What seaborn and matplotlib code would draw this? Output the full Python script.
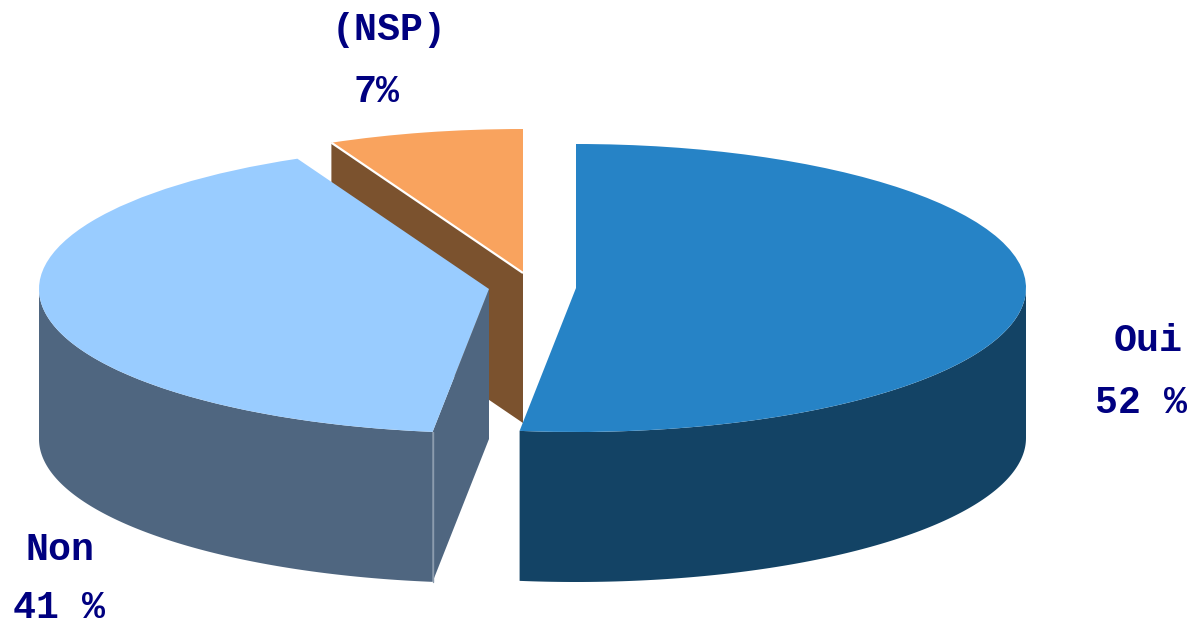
import numpy as np
import seaborn as sns
import matplotlib
matplotlib.use("Agg")
import matplotlib.pyplot as plt

categories = ["Oui", "Non", "(NSP)"]
values = [52, 41, 7]
value_labels = ["52 %", "41 %", "7%"]
top_colors = ["#2683C6", "#99CCFF", "#F9A35E"]
wall_colors = ["#134365", "#4F6680", "#7B522E"]

sns.set_theme(style="white")
plt.rcParams["font.family"] = ["Liberation Mono", "DejaVu Sans"]

W, H = 1189, 626
RX, RY = 450.0, 144.0
CX, CY = 576.0, 288.0
DEPTH = 150.0 / RY


def dx(px):
    return (px - CX) / RX


def dy(py):
    return (CY - py) / RY


fig = plt.figure(figsize=(W / 100, H / 100), dpi=100, facecolor="white")
ax = fig.add_axes([0, 0, 1, 1])
palette = sns.color_palette(top_colors)
wedges, _ = ax.pie(values, colors=palette, startangle=90, counterclock=False,
                   radius=1.0, wedgeprops={"linewidth": 0})
ax.set_aspect("auto")
ax.set_xlim(dx(0), dx(W))
ax.set_ylim(dy(H), dy(0))
ax.axis("off")

centers = [(dx(576), dy(288)), (dx(489), dy(289)), (dx(523), dy(273))]
layer_z = [6, 4, 2]


def point(c, deg):
    t = np.radians(deg)
    return c[0] + np.cos(t), c[1] + np.sin(t)


def outer_wall(c, a0, a1, color, z):
    t = np.radians(np.linspace(a0, a1, 120))
    xs = c[0] + np.cos(t)
    ys = c[1] + np.sin(t)
    ax.fill(np.r_[xs, xs[::-1]], np.r_[ys, ys[::-1] - DEPTH],
            color=color, lw=0, zorder=z)


def cut_face(c, deg, color, z):
    px, py = point(c, deg)
    ax.fill([c[0], px, px, c[0]], [c[1], py, py - DEPTH, c[1] - DEPTH],
            color=color, lw=0, zorder=z)


for w, c, z in zip(wedges, centers, layer_z):
    w.set_center(c)
    w.set_zorder(z + 1)

# Oui: front wall
oui, non, nsp = wedges
outer_wall(centers[0], oui.theta1, 0, wall_colors[0], layer_z[0])

# Non: front wall and the cut face toward the gap
outer_wall(centers[1], -180, non.theta2, wall_colors[1], layer_z[1])
cut_face(centers[1], non.theta2, wall_colors[1], layer_z[1])
ex, ey = point(centers[1], non.theta2)
ax.plot([ex, ex], [ey, ey - DEPTH], color="#8C9CAE", lw=1, zorder=layer_z[1] + 0.5)

# NSP: cut face toward Non, with the thin white ridge
cut_face(centers[2], nsp.theta2 + 0, wall_colors[2], layer_z[2])
ex, ey = point(centers[2], nsp.theta2)
ax.plot([centers[2][0], ex], [centers[2][1], ey], color="white", lw=1.6,
        zorder=layer_z[2] + 2, solid_capstyle="butt")

text_style = dict(color="#000080", fontsize=27.5, fontweight="bold",
                  family=["Liberation Mono", "DejaVu Sans"],
                  ha="left", va="baseline", zorder=10)
name_pos = [(1114, 351), (26, 560), (332, 40)]
value_pos = [(1095, 413), (13, 618), (354, 102)]
for name, val, np_, vp in zip(categories, value_labels, name_pos, value_pos):
    ax.text(dx(np_[0]), dy(np_[1]), name, **text_style)
    ax.text(dx(vp[0]), dy(vp[1]), val, **text_style)

fig.savefig("out.png", dpi=100, facecolor="white")
